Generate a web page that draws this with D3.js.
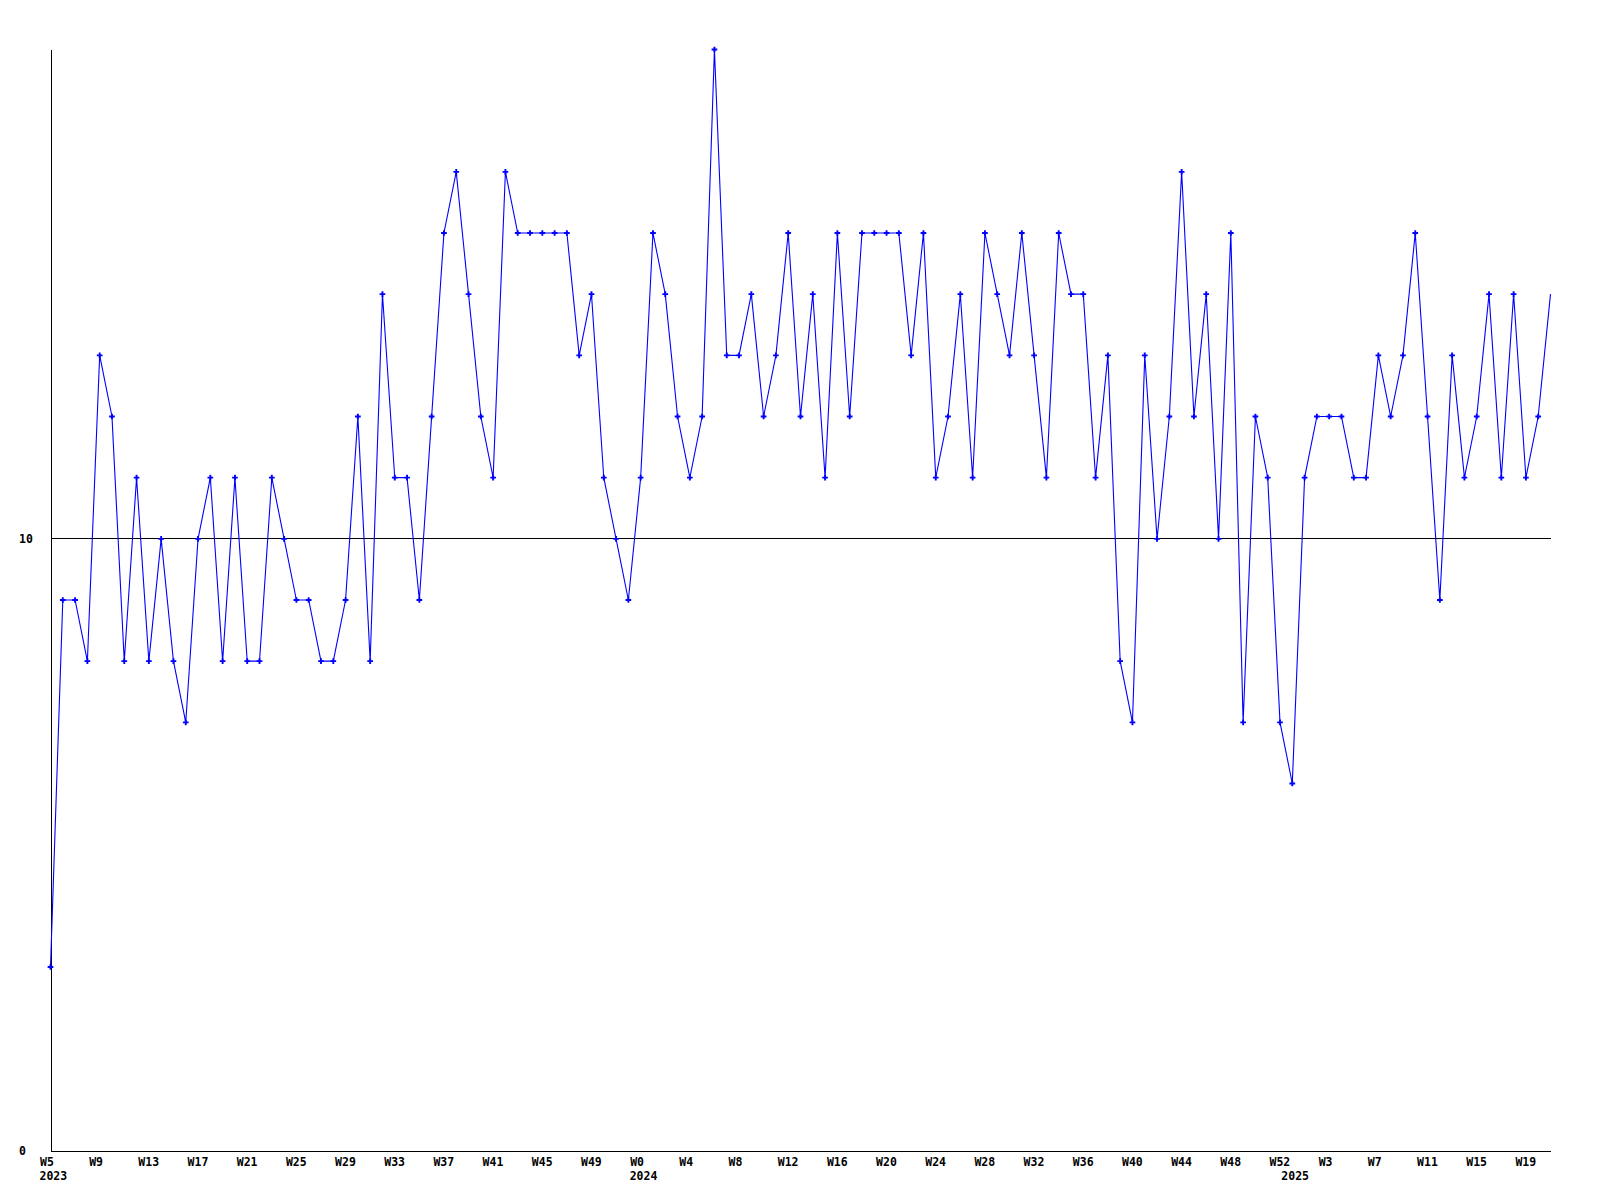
<!DOCTYPE html>
<html>
<head>
<meta charset="utf-8">
<script src="https://cdn.jsdelivr.net/npm/d3@7"></script>
<style>
  html, body { margin: 0; padding: 0; background: #fff; }
  svg { display: block; }
  text { font-family: "DejaVu Sans Mono", monospace; font-weight: bold; font-size: 11.5px; fill: #000; }
</style>
</head>
<body>
<svg id="chart" width="1600" height="1200"></svg>
<script>
// ---- data ----
const weeks2023 = [5,6,7,8,9,10,11,12,13,14,15,16,17,18,19,20,21,22,23,24,25,26,27,28,29,30,31,32,33,34,35,36,37,38,39,40,41,42,43,44,45,46,47,48,49,50,51,52];
const weeks2024 = [0,1,2,3,4,5,6,7,8,9,10,11,12,13,14,15,16,17,18,19,20,21,22,23,24,25,26,27,28,29,30,31,32,33,34,35,36,37,38,39,40,41,42,43,44,45,46,47,48,49,50,51,52];
const weeks2025 = [0,1,2,3,4,5,6,7,8,9,10,11,12,13,14,15,16,17,18,19,20,21];
const years = [2023, 2024, 2025];
const values = [
  3,9,9,8,13,12,8,11,8,10,
  8,7,10,11,8,11,8,8,11,10,
  9,9,8,8,9,12,8,14,11,11,
  9,12,15,16,14,12,11,16,15,15,
  15,15,15,13,14,11,10,9,11,15,
  14,12,11,12,18,13,13,14,12,13,
  15,12,14,11,15,12,15,15,15,15,
  13,15,11,12,14,11,15,14,13,15,
  13,11,15,14,14,11,13,8,7,13,
  10,12,16,12,14,10,15,7,12,11,
  7,6,11,12,12,12,11,11,13,12,
  13,15,12,9,13,11,12,14,11,14,
  11,12,14
];
const yTicks = [0, 10];
const yMax = 18;
const tickEvery = 4;

// categories built from the week lists
const weekLists = [weeks2023, weeks2024, weeks2025];
const categories = [];
weekLists.forEach((wl, yi) => wl.forEach(w => categories.push({ key: years[yi] + "-W" + w, year: years[yi], week: w })));
const data = categories.map((c, i) => ({ key: c.key, week: c.week, year: c.year, value: values[i] }));

// ---- drawing ----
const svg = d3.select("#chart");
const x = d3.scalePoint().domain(categories.map(c => c.key)).range([50.5, 1550.5]);
const y = d3.scaleLinear().domain([0, yMax]).range([1150.5, 49.5]);

// gridline at 10
svg.append("g").selectAll("line").data(yTicks.filter(t => t > 0)).join("line")
  .attr("x1", x.range()[0]).attr("x2", x.range()[1])
  .attr("y1", d => y(d)).attr("y2", d => y(d))
  .attr("stroke", "#000").attr("stroke-width", 1).attr("shape-rendering", "crispEdges");

// left axis
const gy = svg.append("g").attr("transform", `translate(${x.range()[0]},0)`)
  .call(d3.axisLeft(y).tickValues(yTicks).tickSize(0).tickSizeOuter(0).tickFormat(d3.format("d")));
gy.select(".domain").attr("stroke", "#000").attr("shape-rendering", "crispEdges");
gy.selectAll("text").attr("text-anchor", "start").attr("x", 19 - x.range()[0]).attr("dy", "0.36em")
  .style("font-family", "DejaVu Sans Mono").style("font-size", "11.5px").style("font-weight", "bold");

// bottom axis
const tickKeys = categories.filter((c, i) => i % tickEvery === 0).map(c => c.key);
const weekOf = new Map(categories.map(c => [c.key, "W" + c.week]));
const gx = svg.append("g").attr("transform", `translate(0,${y(0)})`)
  .call(d3.axisBottom(x).tickValues(tickKeys).tickSize(0).tickSizeOuter(0).tickFormat(k => weekOf.get(k)));
gx.select(".domain").attr("stroke", "#000").attr("shape-rendering", "crispEdges");
gx.selectAll("text").attr("text-anchor", "start").attr("dx", -11).attr("y", 15.5).attr("dy", 0)
  .style("font-family", "DejaVu Sans Mono").style("font-size", "11.5px").style("font-weight", "bold");

// year labels at first week of each year
const yearStarts = years.map(yr => categories.find(c => c.year === yr));
svg.append("g").selectAll("text").data(yearStarts).join("text")
  .attr("x", d => x(d.key) - 11).attr("y", y(0) + 29.5)
  .attr("text-anchor", "start").text(d => d.year);

// line
svg.append("path").datum(data)
  .attr("fill", "none").attr("stroke", "#0000ff").attr("stroke-width", 1.1)
  .attr("d", d3.line().x(d => x(d.key)).y(d => y(d.value)));

// markers (last point has no marker in the reference)
svg.append("g").selectAll("path").data(data.slice(0, -1)).join("path")
  .attr("transform", d => `translate(${x(d.key)},${y(d.value)})`)
  .attr("d", d3.symbol().type(d3.symbolCross).size(18))
  .attr("fill", "#0000ff");
</script>
</body>
</html>
